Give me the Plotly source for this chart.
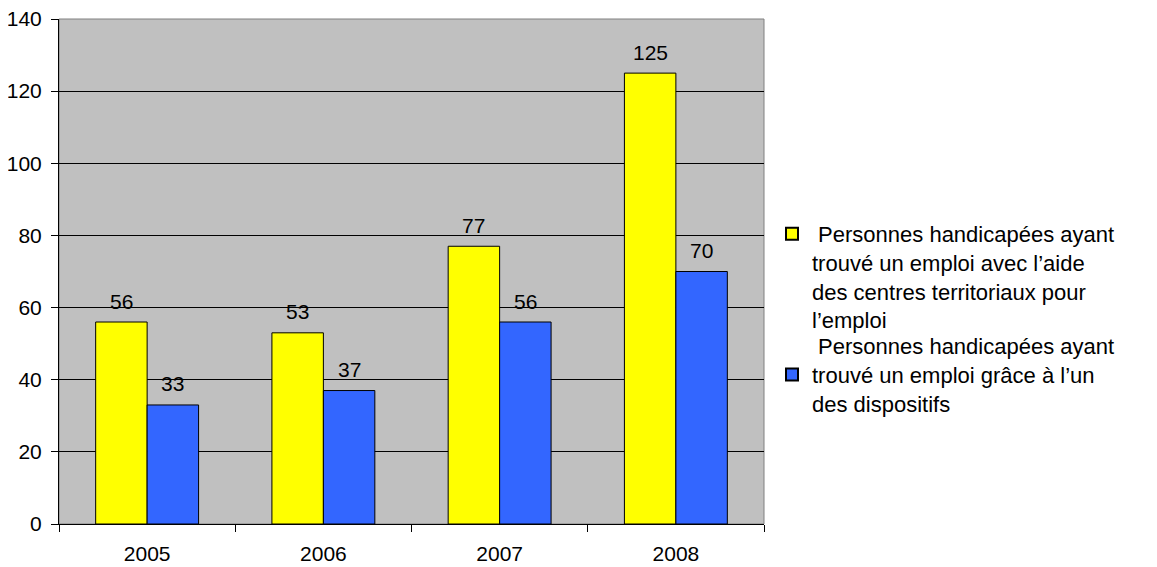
import plotly.graph_objects as go

years = ["2005", "2006", "2007", "2008"]
centres = [56, 53, 77, 125]
dispositifs = [33, 37, 56, 70]
name_centres = "\u00a0Personnes handicapées ayant<br>trouvé un emploi avec l’aide<br>des centres territoriaux pour<br>l’emploi"
name_dispositifs = "\u00a0Personnes handicapées ayant<br>trouvé un emploi grâce à l’un<br>des dispositifs"
y_ticks = [0, 20, 40, 60, 80, 100, 120, 140]

FONT = "Liberation Sans, Arial, sans-serif"
COLORS = ["#FFFF00", "#3366FF"]

# page body has an 8px margin: work in screen pixels and subtract it
OFF = 8
W, H = 1157 - OFF, 567 - OFF
L, R, T, B = 59 - OFF, 764 - OFF, 19 - OFF, 524 - OFF
BARGAP = 0.416

def px_x(p):
    return (p - OFF - L) / (R - L)

def px_y(p):
    return (B - (p - OFF)) / (B - T)

fig = go.Figure()
for vals, name, col, lg in [(centres, name_centres, COLORS[0], "legend"),
                            (dispositifs, name_dispositifs, COLORS[1], "legend2")]:
    fig.add_trace(go.Bar(
        x=years, y=vals, name=name,
        marker=dict(color=col, line=dict(color="#000000", width=1)),
        legend=lg,
    ))

# value labels above each bar (category axis: annotation x is the category index)
cat_px = (R - L) / len(years)
bar_px = cat_px * (1 - BARGAP) / 2
annotations = []
for shift, vals in [(-bar_px / 2, centres), (bar_px / 2, dispositifs)]:
    for i, v in enumerate(vals):
        annotations.append(dict(
            x=i, y=v, xref="x", yref="y", text=str(v), showarrow=False,
            xshift=shift, yshift=21, yanchor="middle", xanchor="center",
            font=dict(size=21, color="#000000", family=FONT),
        ))

legend_common = dict(
    font=dict(size=22, color="#000000", family=FONT),
    bgcolor="rgba(0,0,0,0)", borderwidth=0,
    xanchor="left", yanchor="top", itemsizing="constant",
)

fig.update_layout(
    width=W, height=H,
    margin=dict(l=L, r=W - R, t=T, b=H - B, pad=0, autoexpand=False),
    paper_bgcolor="#FFFFFF", plot_bgcolor="#C0C0C0",
    barmode="group", bargap=BARGAP, bargroupgap=0,
    font=dict(family=FONT, size=21, color="#000000"),
    showlegend=True,
    legend=dict(x=px_x(772), y=px_y(213), valign="top", **legend_common),
    legend2=dict(x=px_x(772), y=px_y(325), valign="middle", **legend_common),
    xaxis=dict(
        type="category", categoryorder="array", categoryarray=years,
        showline=True, linecolor="#000000", linewidth=1,
        ticks="outside", tickson="boundaries", ticklen=7, tickcolor="#000000",
        showgrid=False, tickfont=dict(size=21), automargin=False,
        ticklabelstandoff=11, ticklabeloverflow="allow",
    ),
    yaxis=dict(
        range=[0, 140], tickvals=y_ticks, showline=True, linecolor="#000000",
        linewidth=1, ticks="outside", ticklen=7, tickcolor="#000000",
        showgrid=True, gridcolor="#000000", gridwidth=1, zeroline=False,
        tickfont=dict(size=21), automargin=False, ticklabelstandoff=5,
        ticklabeloverflow="allow",
    ),
    annotations=annotations,
    shapes=[dict(type="rect", xref="paper", yref="paper", x0=0, x1=1, y0=0, y1=1,
                 line=dict(color="#808080", width=1), layer="below")],
)

fig.write_html("out.html")
